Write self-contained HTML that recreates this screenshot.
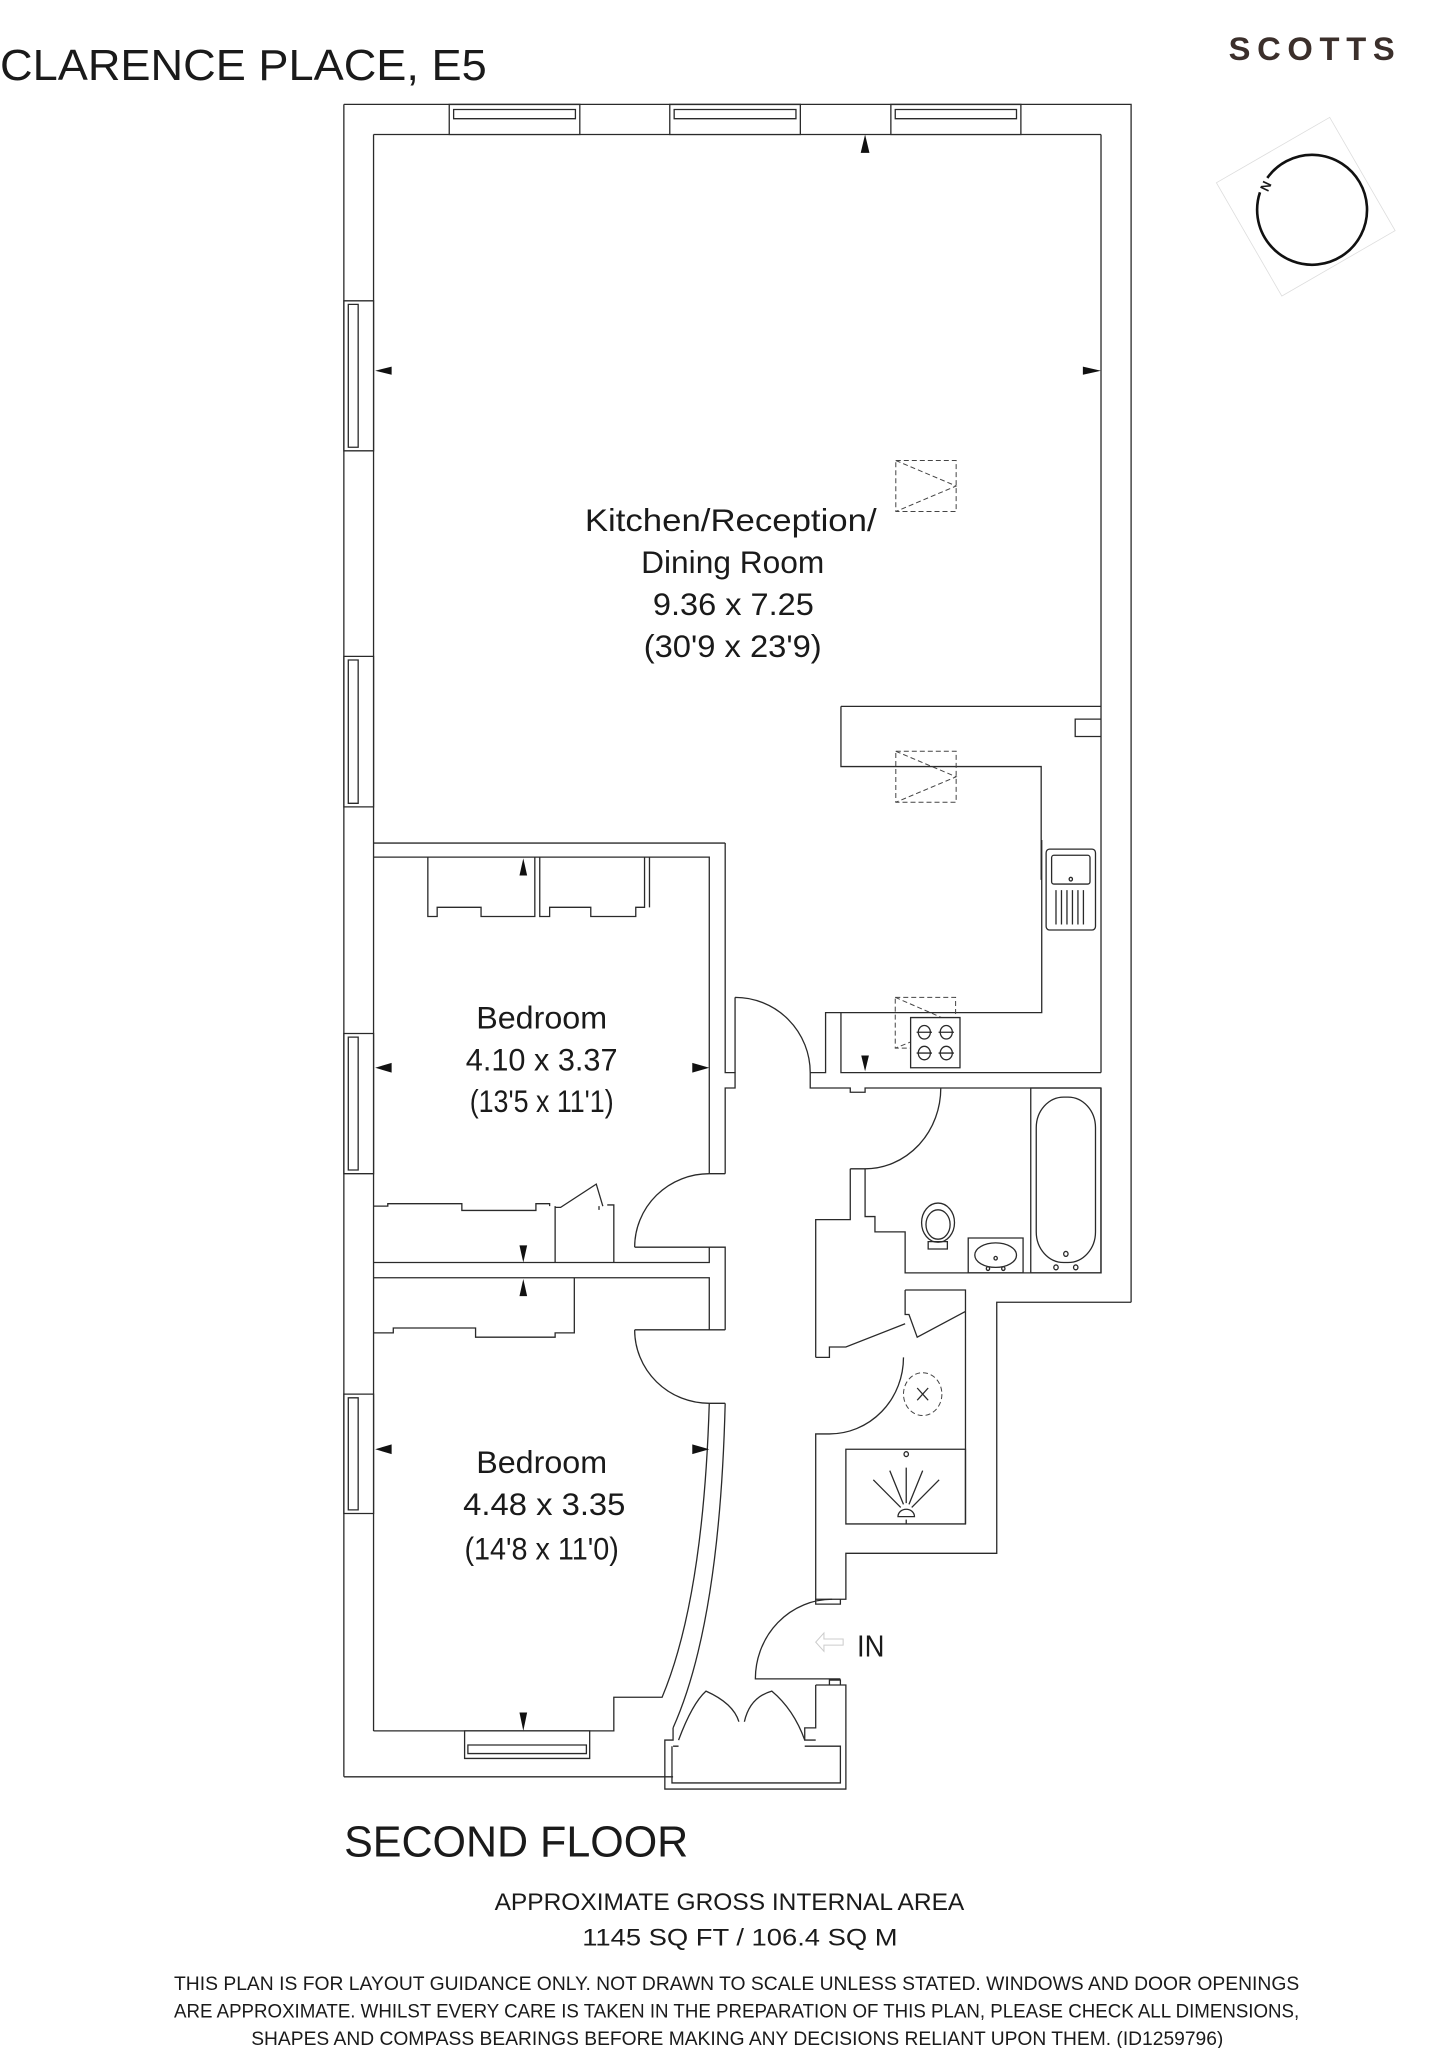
<!DOCTYPE html>
<html><head><meta charset="utf-8"><style>
html,body{margin:0;padding:0;background:#fff;}
svg{display:block;}
text{font-family:"Liberation Sans",sans-serif;fill:#1a1a1a;}
.w{fill:none;stroke:#2a2a2a;stroke-width:1.3;vector-effect:non-scaling-stroke;stroke-linejoin:miter;}
.d{fill:none;stroke:#444;stroke-width:1;stroke-dasharray:5 3;vector-effect:non-scaling-stroke;}
.a{fill:#111;stroke:none;}
</style></head><body>
<svg width="1434" height="2048" viewBox="0 0 1096 1565.3" xmlns="http://www.w3.org/2000/svg">
<rect width="1096" height="1566" fill="#fff"/>
<!-- titles -->
<text x="0" y="61" font-size="33" textLength="372" lengthAdjust="spacingAndGlyphs">CLARENCE PLACE, E5</text>
<text x="939" y="46" font-size="25" font-weight="bold" textLength="127" lengthAdjust="spacing" style="fill:#3b2f2b">SCOTTS</text>
<!-- compass -->
<g transform="rotate(-30 998 158)"><rect x="948" y="108" width="100" height="100" fill="none" stroke="#ddd" stroke-width="0.6"/></g>
<path d="M968.6,136 A42,42 0 1 1 963,147" fill="none" stroke="#111" stroke-width="2"/>
<text x="0" y="0" font-size="10" font-weight="bold" transform="translate(969,147) rotate(-65)">N</text>

<!-- outer walls display coords -->
<path class="w" d="M262.8,79.8 H864.5 V995.3"/>
<path class="w" d="M262.8,79.8 V1358"/>
<path class="w" d="M285.5,102.8 H841.5"/>
<path class="w" d="M285.5,102.8 V1323"/>
<path class="w" d="M841.5,102.8 V819.8"/>

<!-- crop1 coords -->
<g transform="matrix(0.4193 0 0 0.3899 229.3 61.1)">
<rect class="w" x="272" y="48" width="238" height="59" fill="#fff" style="fill:#fff"/><rect class="w" x="280" y="58" width="222" height="18"/>
<rect class="w" x="674" y="48" width="238" height="59" style="fill:#fff"/><rect class="w" x="682" y="58" width="222" height="18"/>
<rect class="w" x="1077" y="48" width="237" height="59" style="fill:#fff"/><rect class="w" x="1085" y="58" width="221" height="18"/>
<rect class="w" x="80" y="433" width="54" height="294" style="fill:#fff"/><rect class="w" x="88" y="440" width="18" height="280"/>
<rect class="w" x="80" y="1130" width="54" height="295" style="fill:#fff"/><rect class="w" x="88" y="1137" width="18" height="281"/>
<path class="a" d="M1030,107 L1022,143 L1038,143 Z"/>
<path class="a" d="M137,570 L167,562 L167,578 Z"/>
<path class="a" d="M1460,570 L1427,562 L1427,578 Z"/>
<rect class="d" x="1086" y="746" width="110" height="100"/><path class="d" d="M1086,746 L1196,796 L1086,846"/>
<path class="w" d="M986,1228 H1460 M986,1228 V1346 H1351 V1568 M1460,1253 H1413 V1287 H1460"/>
<rect class="d" x="1086" y="1316" width="110" height="100"/><path class="d" d="M1086,1316 L1196,1366 L1086,1416"/>
</g>

<!-- crop2 coords -->
<g transform="matrix(0.4193 0 0 0.468 229.3 642)">
<path class="w" d="M134,5 H775 M134,28 H746 V545 M775,5 V380 H793 V405 H775 V545"/>
<rect class="w" x="80" y="316" width="54" height="229" style="fill:#fff"/><rect class="w" x="88" y="322" width="18" height="217"/>
<rect class="w" x="80" y="905" width="54" height="195" style="fill:#fff"/><rect class="w" x="88" y="911" width="18" height="183"/>
<!-- wardrobes bed1 -->
<path class="w" d="M233,28 V125 H250 V110 H330 V125 H428 V28 M437,28 V125 H455 V110 H530 V125 H612 V110 H628 V28 M637,28 V110"/>
<path class="a" d="M407,30 L400,58 L414,58 Z"/>
<path class="a" d="M137,372 L167,364 L167,380 Z"/>
<path class="a" d="M746,372 L715,364 L715,380 Z"/>
<!-- bed1 bottom -->
<path class="w" d="M134,598 H160 V594 H295 V605 H430 V594 H455 V598 M465,598 V690 M465,600 H475 L540,562 L552,598 M545,598 V604 M560,596 H572 V690 M134,690 H746 V665"/>
<path class="a" d="M407,690 L400,662 L414,662 Z"/>
<path class="w" d="M746,665 H610 M610,665 A136,120 0 0 1 746,545 M746,545 H775 M746,665 H775 V800"/>
<!-- bed2 -->
<path class="w" d="M134,715 H746 V800 M500,715 V805 H465 V812 H320 V797 H170 V805 H134"/>
<path class="a" d="M407,717 L400,745 L414,745 Z"/>
<path class="w" d="M746,800 H610 M610,800 A136,120 0 0 0 746,920 H775 M775,800 H746"/>
<path class="w" d="M746,920 Q735,1240 660,1400 H572 V1455 H134 M775,920 Q765,1280 680,1450 M80,1530 H680"/>
<rect class="w" x="300" y="1455" width="228" height="45" style="fill:#fff"/><rect class="w" x="306" y="1478" width="216" height="14"/>
<path class="a" d="M137,995 L167,987 L167,1003 Z"/>
<path class="a" d="M746,995 L715,987 L715,1003 Z"/>
<path class="a" d="M407,1455 L400,1425 L414,1425 Z"/>
<!-- hall top door -->
<path class="w" d="M793,257 V380 M793,257 A137,123 0 0 1 930,380 V405 H1003 V412 H1030 V405 H1460"/>
<path class="w" d="M930,380 H958 V282 H1352 V0 M986,282 V380 H1460 M958,282 V380"/>
<path class="a" d="M1030,378 L1023,352 L1037,352 Z"/>
<rect class="d" x="1085" y="257" width="110" height="83"/><path class="d" d="M1085,257 L1195,300 L1085,340"/>
<rect class="w" x="1113" y="290" width="90" height="82" style="fill:#fff"/>
<circle class="w" cx="1138" cy="314" r="11"/><circle class="w" cx="1178" cy="314" r="11"/>
<circle class="w" cx="1138" cy="348" r="11"/><circle class="w" cx="1178" cy="348" r="11"/>
<path class="w" d="M1124,314 H1152 M1164,314 H1192 M1124,348 H1152 M1164,348 H1192"/>
<!-- sink -->
<rect class="w" x="1360" y="15" width="90" height="132" rx="6"/>
<rect class="w" x="1370" y="25" width="70" height="47" rx="4"/>
<circle class="w" cx="1405" cy="64" r="3"/>
<path class="w" d="M1378,82 V138 M1388,82 V138 M1398,82 V138 M1408,82 V138 M1418,82 V138 M1428,82 V138"/>
<!-- bathroom -->
<path class="w" d="M1168,405 A138,132 0 0 1 1030,537 M1003,537 H1030 V615 H1048 V640 H1103 V707 H1460 V405 M1003,537 V620 H940 V845"/>
<rect class="w" x="1332" y="405" width="128" height="302"/>
<rect class="w" x="1342" y="420" width="108" height="270" rx="50"/>
<circle class="w" cx="1378" cy="698" r="4"/><circle class="w" cx="1396" cy="676" r="4"/><circle class="w" cx="1414" cy="698" r="4"/>
<rect class="w" x="1218" y="650" width="100" height="57"/>
<ellipse class="w" cx="1268" cy="678" rx="38" ry="20"/>
<circle class="w" cx="1268" cy="683" r="3"/><circle class="w" cx="1254" cy="700" r="3"/><circle class="w" cx="1282" cy="700" r="3"/>
<ellipse class="w" cx="1163" cy="625" rx="30" ry="32"/>
<ellipse class="w" cx="1163" cy="628" rx="22" ry="24"/>
<rect class="w" x="1145" y="656" width="35" height="12"/>
<!-- storage -->
<path class="w" d="M1103,735 H1213 V1117 M1103,735 V775 H1110 L1125,812 L1213,770 M940,845 H965 V828 H995 L1103,790"/>
<path class="w" d="M1100,845 A135,125 0 0 1 965,970 H940 V1240 H995 V1165 H1270 V755 H1515"/>
<circle class="d" cx="1135" cy="905" r="35"/><path class="w" d="M1125,895 L1145,915 M1145,895 L1125,915"/>
<rect class="w" x="995" y="995" width="218" height="122"/>
<circle class="w" cx="1105" cy="1003" r="4"/>
<path class="w" d="M1090,1105 A15,12 0 0 1 1120,1105 Z M1105,1110 V1117 M1095,1090 L1045,1045 M1100,1085 L1075,1030 M1105,1083 V1025 M1110,1085 L1135,1030 M1115,1090 L1165,1045"/>
<!-- entrance -->
<path class="w" d="M970,1240 A140,130 0 0 0 830,1370 H985 M940,1240 V1248 H985 V1240"/>
<path class="w" d="M940,1380 V1450 H920 V1470 H940 M940,1380 H995 V1550 H665 V1470 H680 V1450 M985,1380 V1372 H965 V1380"/>
<path class="w" d="M678,1480 V1540 H985 V1480 H920 M680,1480 H690"/>
<path class="w" d="M690,1470 Q715,1410 740,1390 Q790,1410 800,1440 M810,1440 Q820,1400 860,1390 Q900,1420 920,1470"/>
<path d="M955,1295 L940,1310 L955,1325 V1315 H990 V1305 H955 Z" fill="none" stroke="#ccc" stroke-width="1" vector-effect="non-scaling-stroke"/>
</g>

<!-- room labels -->
<text x="447" y="406" font-size="24" textLength="223" lengthAdjust="spacingAndGlyphs">Kitchen/Reception/</text>
<text x="490" y="438" font-size="24" textLength="140" lengthAdjust="spacingAndGlyphs">Dining Room</text>
<text x="499" y="470" font-size="24" textLength="123" lengthAdjust="spacingAndGlyphs">9.36 x 7.25</text>
<text x="492" y="502" font-size="24" textLength="136" lengthAdjust="spacingAndGlyphs">(30'9 x 23'9)</text>
<text x="364" y="786" font-size="24" textLength="100" lengthAdjust="spacingAndGlyphs">Bedroom</text>
<text x="356" y="818" font-size="24" textLength="116" lengthAdjust="spacingAndGlyphs">4.10 x 3.37</text>
<text x="359" y="850" font-size="24" textLength="110" lengthAdjust="spacingAndGlyphs">(13'5 x 11'1)</text>
<text x="364" y="1126" font-size="24" textLength="100" lengthAdjust="spacingAndGlyphs">Bedroom</text>
<text x="354" y="1158" font-size="24" textLength="124" lengthAdjust="spacingAndGlyphs">4.48 x 3.35</text>
<text x="355" y="1192" font-size="24" textLength="118" lengthAdjust="spacingAndGlyphs">(14'8 x 11'0)</text>
<text x="655" y="1266" font-size="23" textLength="21" lengthAdjust="spacingAndGlyphs">IN</text>

<text x="263" y="1419" font-size="33" textLength="263" lengthAdjust="spacingAndGlyphs">SECOND FLOOR</text>
<text x="378" y="1460" font-size="18.5" textLength="359" lengthAdjust="spacingAndGlyphs">APPROXIMATE GROSS INTERNAL AREA</text>
<text x="445" y="1487" font-size="18.5" textLength="241" lengthAdjust="spacingAndGlyphs">1145 SQ FT / 106.4 SQ M</text>
<text x="133" y="1521" font-size="14.5" textLength="860" lengthAdjust="spacingAndGlyphs">THIS PLAN IS FOR LAYOUT GUIDANCE ONLY. NOT DRAWN TO SCALE UNLESS STATED. WINDOWS AND DOOR OPENINGS</text>
<text x="133" y="1542" font-size="14.5" textLength="860" lengthAdjust="spacingAndGlyphs">ARE APPROXIMATE. WHILST EVERY CARE IS TAKEN IN THE PREPARATION OF THIS PLAN, PLEASE CHECK ALL DIMENSIONS,</text>
<text x="192" y="1563" font-size="14.5" textLength="743" lengthAdjust="spacingAndGlyphs">SHAPES AND COMPASS BEARINGS BEFORE MAKING ANY DECISIONS RELIANT UPON THEM. (ID1259796)</text>
</svg>
</body></html>
